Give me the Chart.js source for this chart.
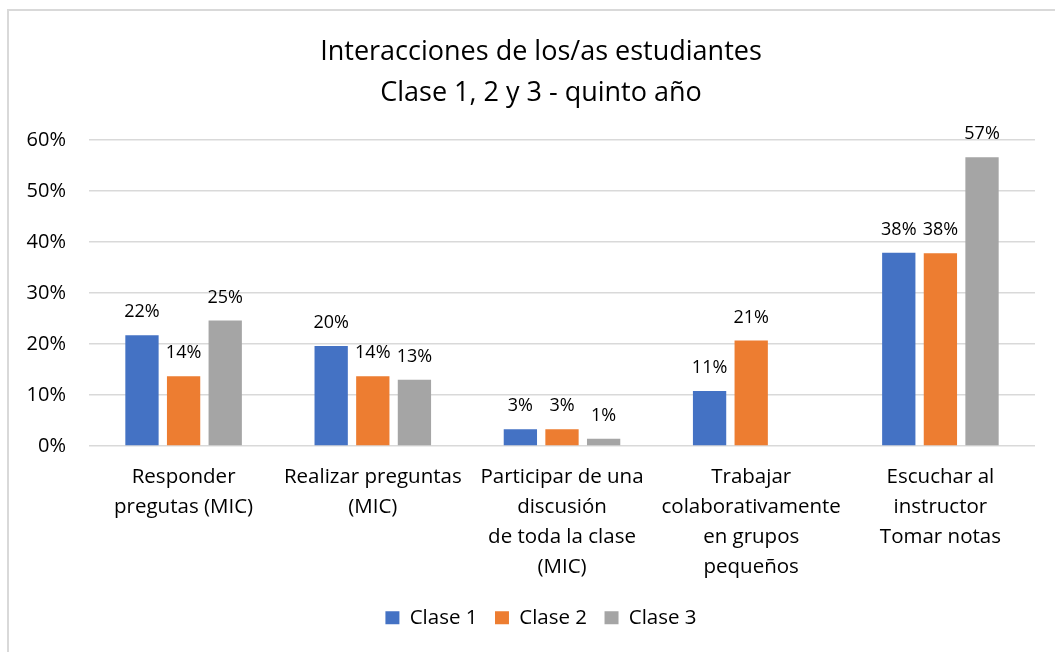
<!DOCTYPE html>
<html>
<head>
<meta charset="utf-8">
<script src="https://cdn.jsdelivr.net/npm/chart.js@4.4.1/dist/chart.umd.min.js"></script>
<style>
  html, body { margin: 0; padding: 0; background: #fff; }
  #wrap { position: relative; width: 1055px; height: 652px; }
  #frame { position: absolute; left: 7px; top: 9px; width: 1100px; height: 700px;
           border-left: 2px solid #d9d9d9; border-top: 2px solid #d9d9d9; }
  canvas { position: absolute; left: 0; top: 0; }
</style>
</head>
<body>
<div id="wrap">
  <div id="frame"></div>
  <canvas id="c" width="1055" height="652"></canvas>
</div>
<script>
const titleLines = ["Interacciones de los/as estudiantes", "Clase 1, 2 y 3 - quinto año"];
const categories = [
  ["Responder", "pregutas (MIC)"],
  ["Realizar preguntas", "(MIC)"],
  ["Participar de una", "discusión", "de toda la clase", "(MIC)"],
  ["Trabajar", "colaborativamente", "en grupos", "pequeños"],
  ["Escuchar al", "instructor", "Tomar notas"]
];
const seriesNames = ["Clase 1", "Clase 2", "Clase 3"];
const clase1 = [0.217, 0.196, 0.033, 0.108, 0.379];
const clase2 = [0.137, 0.137, 0.033, 0.207, 0.378];
const clase3 = [0.246, 0.130, 0.014, null, 0.566];
const seriesColors = ["#4472C4", "#ED7D31", "#A5A5A5"];
const yTicks = [0, 0.1, 0.2, 0.3, 0.4, 0.5, 0.6];

const FONT = "'Open Sans', Lato, sans-serif";
const TXT = "#000000";

const dataLabels = {
  id: "dataLabels",
  afterDatasetsDraw(chart) {
    const ctx = chart.ctx;
    ctx.save();
    ctx.font = "18px " + FONT;
    ctx.fillStyle = TXT;
    ctx.textAlign = "center";
    ctx.textBaseline = "middle";
    chart.data.datasets.forEach((ds, i) => {
      const meta = chart.getDatasetMeta(i);
      meta.data.forEach((bar, j) => {
        const v = ds.data[j];
        if (v === null || v === undefined) return;
        ctx.fillText(Math.round(v * 100) + "%", bar.x, bar.y - 23);
      });
    });
    ctx.restore();
  }
};

// let the y tick labels use the room to the left of the axis box (no clipping)
const labelRoom = {
  id: "labelRoom",
  afterLayout(chart) {
    chart.scales.y.left = 0;
    chart.scales.x.bottom = chart.height;
  }
};

new Chart(document.getElementById("c"), {
  type: "bar",
  data: {
    labels: categories,
    datasets: [
      { label: seriesNames[0], data: clase1, backgroundColor: seriesColors[0] },
      { label: seriesNames[1], data: clase2, backgroundColor: seriesColors[1] },
      { label: seriesNames[2], data: clase3, backgroundColor: seriesColors[2] }
    ]
  },
  options: {
    responsive: false,
    animation: false,
    devicePixelRatio: 1,
    datasets: { bar: { categoryPercentage: 0.66, barPercentage: 0.8 } },
    layout: { padding: { top: 32, left: 47, right: 20, bottom: 14 } },
    plugins: {
      title: {
        display: true,
        text: titleLines,
        color: TXT,
        font: { family: FONT, size: 27, weight: "normal", lineHeight: "41px" },
        padding: { top: 0, bottom: 26 }
      },
      legend: {
        position: "bottom",
        labels: {
          color: TXT,
          font: { family: FONT, size: 20.5 },
          boxWidth: 14,
          boxHeight: 13,
          padding: 17.5
        }
      },
      tooltip: { enabled: false }
    },
    scales: {
      x: {
        grid: { display: false, drawTicks: false },
        border: { display: false },
        afterFit(scale) { scale.height = 144; },
        ticks: {
          color: TXT,
          font: { family: FONT, size: 20.5, lineHeight: "30px" },
          padding: 16,
          maxRotation: 0,
          autoSkip: false
        }
      },
      y: {
        min: 0,
        max: 0.6,
        afterBuildTicks(scale) { scale.ticks = yTicks.map(v => ({ value: v })); },
        afterFit(scale) { scale.width = 42; },
        grid: { color: "#d9d9d9", lineWidth: 1.5, drawTicks: false },
        border: { display: false },
        ticks: {
          color: TXT,
          font: { family: FONT, size: 20 },
          padding: 23,
          callback: v => Math.round(v * 100) + "%"
        }
      }
    }
  },
  plugins: [dataLabels, labelRoom]
});
</script>
</body>
</html>
